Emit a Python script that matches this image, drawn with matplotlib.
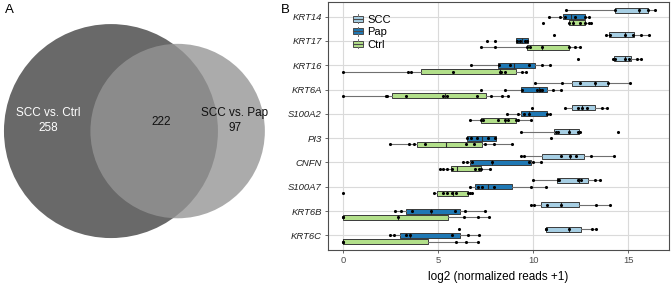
import numpy as np
import matplotlib
matplotlib.use("Agg")
import matplotlib.pyplot as plt
from matplotlib.patches import Circle, Patch, Rectangle
from matplotlib.lines import Line2D
from matplotlib.legend_handler import HandlerBase

plt.rcParams['font.family'] = ['Liberation Sans', 'DejaVu Sans']

# Panel A - overlap of DEG lists
n_ctrl_only = 258
n_both = 222
n_pap_only = 97
venn_names = ["SCC vs. Ctrl", "SCC vs. Pap"]

# Panel B - log2(normalized reads + 1) per sample
genes = ["KRT14", "KRT17", "KRT16", "KRT6A", "S100A2", "PI3", "CNFN", "S100A7", "KRT6B", "KRT6C"]
groups = ["SCC", "Pap", "Ctrl"]
group_colors = ["#a6cee3", "#1f78b4", "#b2df8a"]

scc_points = [
    [11.75, 14.33, 15.56, 16.02, 16.40],
    [11.09, 13.81, 14.04, 14.82, 15.26, 15.70, 16.09],
    [12.37, 14.21, 14.33, 14.82, 15.04, 15.44, 15.65],
    [10.09, 11.53, 12.49, 13.25, 13.95, 15.09],
    [9.95, 11.70, 12.37, 12.58, 12.81, 13.63, 13.91],
    [9.35, 11.19, 11.32, 11.88, 12.37, 12.46, 14.44],
    [9.35, 9.53, 11.44, 11.93, 12.25, 13.04, 14.26],
    [10.00, 11.32, 11.37, 12.37, 12.54, 13.25, 13.54],
    [9.86, 10.05, 10.75, 11.46, 13.30, 14.04],
    [6.09, 10.65, 10.70, 11.89, 13.12, 13.33],
]
scc_box = [  # q1, median, q3
    (14.30, 15.56, 16.02), (14.00, 14.82, 15.30), (14.26, 14.82, 15.14),
    (12.02, 13.25, 13.95), (12.02, 12.58, 13.25), (11.11, 11.88, 12.40),
    (10.49, 11.93, 12.67), (11.28, 12.40, 12.86), (10.40, 11.46, 12.40),
    (10.65, 11.89, 12.54),
]

pap_points = [
    [10.82, 11.40, 11.70, 12.19, 12.72, 12.95],
    [7.58, 7.98, 9.16, 9.33, 9.56, 9.70],
    [6.75, 8.21, 8.77, 9.79, 10.49, 10.88],
    [7.23, 8.51, 9.39, 10.21, 10.35, 10.44, 11.02, 11.49],
    [8.63, 9.18, 9.53, 9.79, 10.74, 10.88],
    [6.54, 6.72, 7.05, 7.63, 7.98, 10.93],
    [6.32, 6.54, 6.79, 7.84, 9.79, 10.00, 10.39],
    [6.67, 7.11, 7.32, 7.93, 9.86, 10.70],
    [2.72, 3.04, 3.60, 4.60, 5.88, 6.40, 7.49],
    [2.46, 2.68, 3.28, 3.51, 5.74, 6.58, 7.14],
]
pap_box = [
    (11.58, 12.00, 12.72), (9.12, 9.40, 9.74), (8.16, 9.00, 10.09),
    (9.35, 10.30, 10.74), (9.35, 9.79, 10.75), (6.54, 7.30, 8.04),
    (6.70, 7.84, 9.91), (6.93, 7.60, 8.86), (3.33, 4.60, 6.14),
    (3.00, 3.51, 6.14),
]

ctrl_points = [
    [10.53, 11.88, 12.11, 12.49, 12.72, 12.93, 13.07],
    [7.23, 7.98, 9.70, 9.82, 10.44, 11.88, 12.19, 12.49],
    [0.00, 3.42, 3.56, 5.79, 8.25, 8.33, 8.51, 9.42, 9.60],
    [0.00, 2.23, 2.33, 3.30, 5.23, 5.47, 7.02, 7.77, 8.37, 8.68],
    [6.70, 7.28, 7.37, 8.16, 8.51, 8.68, 9.12, 9.21, 9.91],
    [2.46, 3.46, 3.72, 4.30, 6.49, 6.89, 7.46, 7.93, 8.91],
    [5.09, 5.26, 5.47, 5.74, 6.93, 7.14, 7.25, 7.72],
    [0.00, 4.77, 5.26, 5.49, 5.74, 5.93, 6.58, 6.67, 6.79],
    [0.00, 0.00, 2.89, 6.37, 7.11, 7.67],
    [0.00, 0.00, 5.93, 6.44, 7.11],
]
ctrl_box = [
    (11.88, 12.11, 12.75), (9.65, 10.44, 11.88), (4.12, 8.25, 9.07),
    (2.58, 5.35, 7.54), (7.23, 8.51, 9.12), (3.86, 5.39, 7.32),
    (5.65, 6.00, 7.23), (4.96, 5.80, 6.58), (0.00, 2.89, 5.53),
    (0.00, 0.00, 4.44),
]

x_ticks = [0, 5, 10, 15]


def lens_area(d, r1, r2):
    a1 = np.arccos((d**2 + r1**2 - r2**2) / (2 * d * r1))
    a2 = np.arccos((d**2 + r2**2 - r1**2) / (2 * d * r2))
    return r1**2 * (a1 - np.sin(2 * a1) / 2) + r2**2 * (a2 - np.sin(2 * a2) / 2)


class BoxKey(HandlerBase):
    # small boxplot glyph like the ggplot legend key
    def create_artists(self, legend, orig, xdescent, ydescent, width, height, fontsize, trans):
        x0, y0 = -xdescent, -ydescent
        ec = '#4a4a4a'
        rect = Rectangle((x0, y0 + 0.18 * height), width, 0.64 * height,
                         facecolor=orig.get_facecolor(), edgecolor=ec, lw=0.7, transform=trans)
        mid = Line2D([x0, x0 + width], [y0 + height / 2] * 2, color=ec, lw=0.8, transform=trans)
        w1 = Line2D([x0 + width / 2] * 2, [y0, y0 + 0.18 * height], color='#707070', lw=0.7, transform=trans)
        w2 = Line2D([x0 + width / 2] * 2, [y0 + 0.82 * height, y0 + height], color='#707070', lw=0.7, transform=trans)
        return [rect, mid, w1, w2]


fig = plt.figure(figsize=(6.71, 2.83), dpi=100)

# ---------------- Panel A: area-proportional Venn
r1 = np.sqrt((n_ctrl_only + n_both) / np.pi)
r2 = np.sqrt((n_pap_only + n_both) / np.pi)
lo, hi = r1 - r2 + 1e-6, r1 + r2 - 1e-6
for _ in range(60):
    mid = (lo + hi) / 2
    if lens_area(mid, r1, r2) > n_both:
        lo = mid
    else:
        hi = mid
d = (lo + hi) / 2

axv = fig.add_axes([0, 0, 283 / 671, 1])
axv.set_xlim(-1.037 * r1, 1.608 * r1)
axv.set_ylim(-1.42 * r1, 1.225 * r1)
axv.set_aspect('equal')
axv.axis('off')
axv.add_patch(Circle((0, 0), r1, facecolor='#696969', edgecolor='none'))
axv.add_patch(Circle((d, 0), r2, facecolor='#959595', edgecolor='none', alpha=0.79))
axv.text(-0.589 * r1, 0.098 * r1, f"{venn_names[0]}\n{n_ctrl_only}", color='white',
         fontsize=8.5, ha='center', va='center', linespacing=1.3)
axv.text(0.467 * r1, 0.084 * r1, f"{n_both}", color='#111111',
         fontsize=8.5, ha='center', va='center')
axv.text(1.159 * r1, 0.098 * r1, f"{venn_names[1]}\n{n_pap_only}", color='#111111',
         fontsize=8.5, ha='center', va='center', linespacing=1.3)

fig.text(5 / 671, 1 - 10 / 283, "A", fontsize=9.5, ha='left', va='center')
fig.text(281 / 671, 1 - 10 / 283, "B", fontsize=9.5, ha='left', va='center')

# ---------------- Panel B: boxplots
ax = fig.add_axes([328 / 671, 1 - 250 / 283, 341 / 671, 248 / 283])
offsets = [-0.26, 0.0, 0.26]
all_points = [scc_points, pap_points, ctrl_points]
all_boxes = [scc_box, pap_box, ctrl_box]

for gi, (pts_list, box_list) in enumerate(zip(all_points, all_boxes)):
    stats = []
    pos = []
    for i, (pts, (q1, med, q3)) in enumerate(zip(pts_list, box_list)):
        iqr = q3 - q1
        inside = [p for p in pts if q1 - 1.5 * iqr <= p <= q3 + 1.5 * iqr]
        stats.append(dict(q1=q1, med=med, q3=q3,
                          whislo=min(min(inside), q1), whishi=max(max(inside), q3),
                          fliers=[]))
        pos.append(i + offsets[gi])
        ax.scatter(pts, [i + offsets[gi]] * len(pts), s=5, color='black',
                   zorder=4, linewidths=0)
    ax.bxp(stats, positions=pos, widths=0.2, orientation='horizontal',
           patch_artist=True, showcaps=False, showfliers=False,
           boxprops=dict(facecolor=group_colors[gi], edgecolor='#3a3a3a', linewidth=0.7),
           medianprops=dict(color='#2a2a2a', linewidth=0.8),
           whiskerprops=dict(color='#707070', linewidth=0.8),
           zorder=3)

ax.set_ylim(len(genes) - 0.4, -0.6)
ax.set_xlim(-0.8, 17.15)
ax.set_yticks(range(len(genes)))
ax.set_yticklabels(genes, fontstyle='italic', fontsize=6.8, color='#222222')
ax.set_xticks(x_ticks)
ax.set_xticklabels([str(t) for t in x_ticks], fontsize=6.8, color='#4d4d4d')
ax.tick_params(axis='both', length=2.5, width=0.6, color='#4d4d4d', pad=2)
ax.grid(True, color='#dadada', linewidth=0.8)
ax.set_axisbelow(True)
for sp in ax.spines.values():
    sp.set_color('#4d4d4d')
    sp.set_linewidth(0.8)
ax.set_xlabel("log2 (normalized reads +1)", fontsize=8.5, labelpad=4)

handles = [Patch(facecolor=c, edgecolor='#3a3a3a', linewidth=0.7) for c in group_colors]
ax.legend(handles, groups, loc='upper left', bbox_to_anchor=(0.072, 0.95),
          frameon=False, fontsize=8, handlelength=0.95, handleheight=0.85,
          handletextpad=0.4, labelspacing=0.2, borderpad=0, borderaxespad=0,
          handler_map={Patch: BoxKey()})

fig.savefig("out.png", dpi=100)
